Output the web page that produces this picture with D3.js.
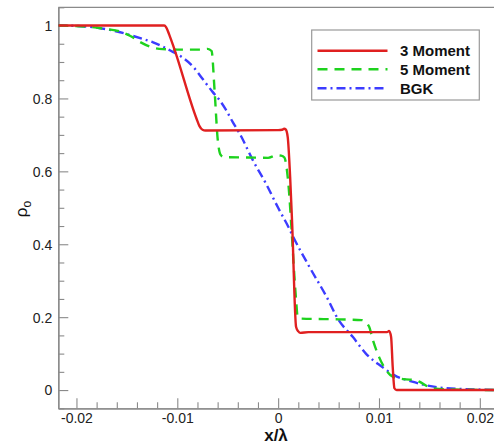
<!DOCTYPE html>
<html><head><meta charset="utf-8">
<script src="https://cdn.jsdelivr.net/npm/d3@7"></script>
<style>
html,body{margin:0;padding:0;background:#fff;}
svg{display:block;font-family:"Liberation Sans",Arial,Helvetica,sans-serif;}
</style></head>
<body>
<svg id="chart" width="494" height="444"></svg>
<script>
// ---- data (x/lambda, rho_o) ----
const moment3X = [-0.0218,-0.0113,-0.0111,-0.0108,-0.0103,-0.0081,-0.0078,-0.0075,-0.0072,0.0000,0.0004,0.0006,0.00075,0.00095,0.00119,0.00139,0.00178,0.0020,0.0022,0.0030,0.0108,0.0110,0.0112,0.01136,0.01153,0.01175,0.0220];
const moment3Y = [1.000,1.000,0.995,0.975,0.936,0.745,0.724,0.714,0.712,0.713,0.714,0.717,0.715,0.694,0.584,0.456,0.173,0.161,0.157,0.159,0.159,0.162,0.146,0.064,0.005,0.000,0.000];

const moment5X = [-0.0218,-0.0190,-0.0170,-0.0157,-0.0147,-0.0137,-0.0127,-0.0118,-0.0100,-0.0075,-0.0070,-0.0066,-0.0063,-0.0060,-0.0057,-0.0054,-0.0030,-0.0010,-0.0002,0.0003,0.00062,0.00095,0.00112,0.00129,0.00178,0.00194,0.0023,0.0060,0.0083,0.0090,0.0094,0.0100,0.0107,0.0114,0.0124,0.0137,0.0140,0.0153,0.0170,0.0220];
const moment5Y = [1.000,0.997,0.990,0.984,0.972,0.955,0.942,0.936,0.934,0.934,0.936,0.930,0.820,0.690,0.645,0.639,0.638,0.637,0.644,0.643,0.638,0.584,0.530,0.457,0.247,0.200,0.196,0.194,0.192,0.175,0.137,0.091,0.055,0.036,0.030,0.027,0.023,0.005,0.002,0.000];

const bgkX = [-0.0218,-0.0200,-0.0167,-0.0134,-0.0124,-0.0104,-0.0098,-0.0084,-0.0075,-0.0065,-0.0058,-0.0052,-0.0045,-0.0038,-0.0025,-0.0012,0.0000,0.0011,0.0015,0.0031,0.0048,0.0060,0.0074,0.0087,0.0103,0.0115,0.0133,0.0160,0.0193,0.0220];
const bgkY = [1.000,0.999,0.988,0.963,0.954,0.927,0.918,0.886,0.854,0.818,0.795,0.770,0.735,0.703,0.630,0.566,0.500,0.443,0.420,0.338,0.256,0.192,0.146,0.100,0.064,0.041,0.023,0.007,0.002,0.000];

const xTicks = [-0.02,-0.01,0,0.01,0.02];
const xTickLabels = ["-0.02","-0.01","0","0.01","0.02"];
const yTicks = [0,0.2,0.4,0.6,0.8,1];
const yTickLabels = ["0","0.2","0.4","0.6","0.8","1"];
const seriesNames = ["3 Moment","5 Moment","BGK"];
const seriesColors = ["#e02020","#1ed21e","#3c3cff"];
const seriesDash = [null,"10,7","9,4,2,4"];

// ---- layout ----
const svg = d3.select("#chart");
const pL = 58.3, pT = 7.3, pR = 500, pB = 408.3;
const x = d3.scaleLinear().domain([-0.0218,0.0220]).range([pL,pR]);
const y = d3.scaleLinear().domain([-0.05,1.05]).range([pB,pT]);

svg.append("defs").append("clipPath").attr("id","clip")
  .append("rect").attr("x",pL).attr("y",pT).attr("width",pR-pL).attr("height",pB-pT);

const axisColor = "#8a8a8a";

// frame top
svg.append("line").attr("x1",pL).attr("x2",pR).attr("y1",pT).attr("y2",pT)
  .attr("stroke",axisColor).attr("stroke-width",1.3);

// minor ticks
const xMinor = d3.range(-0.020,0.0221,0.002).filter(v=>!xTicks.some(t=>Math.abs(t-v)<1e-9));
const yMinor = d3.range(-0.05,1.051,0.05).filter(v=>!yTicks.some(t=>Math.abs(t-v)<1e-9));

const gx = svg.append("g").attr("transform",`translate(0,${pB})`)
  .call(d3.axisBottom(x).tickValues(xTicks).tickFormat((d,i)=>xTickLabels[i]).tickSizeInner(-10).tickSizeOuter(0).tickPadding(5));
const gxm = svg.append("g").attr("transform",`translate(0,${pB})`)
  .call(d3.axisBottom(x).tickValues(xMinor).tickFormat("").tickSizeInner(-6).tickSizeOuter(0));
const gy = svg.append("g").attr("transform",`translate(${pL},0)`)
  .call(d3.axisLeft(y).tickValues(yTicks).tickFormat((d,i)=>yTickLabels[i]).tickSizeInner(-10).tickSizeOuter(0).tickPadding(6));
const gym = svg.append("g").attr("transform",`translate(${pL},0)`)
  .call(d3.axisLeft(y).tickValues(yMinor).tickFormat("").tickSizeInner(-6).tickSizeOuter(0));

[gx,gxm,gy,gym].forEach(g=>{
  g.select(".domain").attr("stroke",axisColor).attr("stroke-width",1.3);
  g.selectAll(".tick line").attr("stroke",axisColor).attr("stroke-width",1.1);
  g.selectAll(".tick text").attr("fill","#222").style("font-size","14px")
    .style("font-family","'Liberation Sans',Arial,sans-serif");
});
gy.selectAll(".tick text").attr("dy","0.35em");

// series
const plot = svg.append("g").attr("clip-path","url(#clip)");
const series = [
  {xs:moment3X, ys:moment3Y},
  {xs:moment5X, ys:moment5Y},
  {xs:bgkX, ys:bgkY}
];
const line = d3.line().x(d=>x(d[0])).y(d=>y(d[1])).curve(d3.curveMonotoneX);
[2,1,0].forEach(i=>{
  const s = series[i];
  const pts = s.xs.map((v,j)=>[v,s.ys[j]]);
  plot.append("path").datum(pts).attr("d",line)
    .attr("fill","none").attr("stroke",seriesColors[i]).attr("stroke-width",2.4)
    .attr("stroke-dasharray",seriesDash[i]).attr("stroke-linejoin","round");
});

// axis titles
svg.append("text").attr("x",276).attr("y",441).attr("text-anchor","middle")
  .style("font-size","17px").style("font-weight","bold").attr("fill","#111").text("x/λ");

const yl = svg.append("text").attr("transform","translate(27,209) rotate(-90)")
  .attr("text-anchor","middle").style("font-size","17px").attr("fill","#111");
yl.append("tspan").text("ρ");
yl.append("tspan").attr("dy","4").style("font-size","12px").text("o");

// legend
const lg = svg.append("g");
lg.append("rect").attr("x",311.7).attr("y",30).attr("width",167.6).attr("height",70)
  .attr("fill","#fff").attr("stroke","#999").attr("stroke-width",1.2);
seriesNames.forEach((name,i)=>{
  const yy = [50.7,69.3,88.3][i];
  lg.append("line").attr("x1",317.5).attr("x2",387.5).attr("y1",yy).attr("y2",yy)
    .attr("stroke",seriesColors[i]).attr("stroke-width",2.4).attr("stroke-dasharray",seriesDash[i]);
  lg.append("text").attr("x",400).attr("y",yy).attr("dy","0.36em")
    .style("font-size","15px").style("font-weight","bold").attr("fill","#111").text(name);
});
</script>
</body></html>
